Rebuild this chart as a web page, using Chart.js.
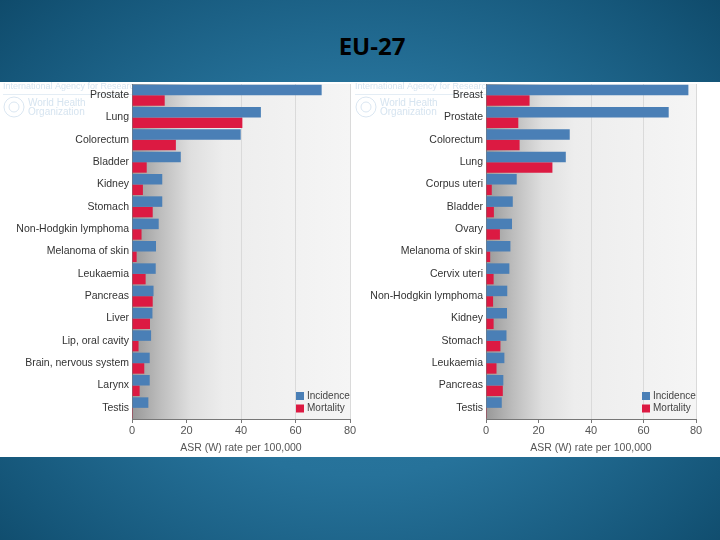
<!DOCTYPE html>
<html>
<head>
<meta charset="utf-8">
<script src="https://cdn.jsdelivr.net/npm/chart.js@4/dist/chart.umd.min.js"></script>
<style>
html,body{margin:0;padding:0;}
body{width:720px;height:540px;overflow:hidden;position:relative;
  background:radial-gradient(ellipse 75% 80% at 50% 52%, #2f7ea5 0%, #26729a 45%, #155679 80%, #0c4564 100%);}
#title{position:absolute;left:0;width:744px;top:31px;line-height:30px;text-align:center;
  font-family:'Open Sans',sans-serif;font-weight:bold;font-size:24px;color:#000;}
#white{position:absolute;top:82px;left:0;width:720px;height:375px;background:#fff;}
.panel{position:absolute;top:82px;height:375px;}
canvas{display:block;}
</style>
</head>
<body>
<div id="title">EU-27</div>
<div id="white"></div>
<div class="panel" style="left:352px;width:368px;z-index:1;"><canvas id="c2" width="368" height="375"></canvas></div>
<div class="panel" style="left:0;width:362px;z-index:2;"><canvas id="c1" width="362" height="375"></canvas></div>
<script>
// ---- data ----
const leftCategories = ['Prostate','Lung','Colorectum','Bladder','Kidney','Stomach','Non-Hodgkin lymphoma','Melanoma of skin','Leukaemia','Pancreas','Liver','Lip, oral cavity','Brain, nervous system','Larynx','Testis'];
const leftIncidence = [69.6,47.3,39.9,17.9,11.1,11.1,9.8,8.8,8.7,7.9,7.5,7.0,6.5,6.5,6.0];
const leftMortality = [12.0,40.5,16.1,5.4,4.0,7.6,3.5,1.7,5.0,7.6,6.6,2.4,4.5,2.8,0.3];

const rightCategories = ['Breast','Prostate','Colorectum','Lung','Corpus uteri','Bladder','Ovary','Melanoma of skin','Cervix uteri','Non-Hodgkin lymphoma','Kidney','Stomach','Leukaemia','Pancreas','Testis'];
const rightIncidence = [77.1,69.6,31.9,30.4,11.7,10.2,9.9,9.3,8.9,8.1,8.0,7.8,7.0,6.6,6.0];
const rightMortality = [16.6,12.3,12.8,25.3,2.2,3.0,5.3,1.6,2.9,2.7,2.9,5.5,4.0,6.4,0.3];

const seriesNames = ['Incidence','Mortality'];
const xTicks = [0,20,40,60,80];
const xTitle = 'ASR (W) rate per 100,000';
const watermarkTop = 'International Agency for Research on Cancer';
const watermarkOrg = ['World Health','Organization'];

Chart.defaults.font.family = "'Liberation Sans', Arial, sans-serif";
Chart.defaults.font.size = 10;

const decor = {
  id: 'decor',
  beforeDraw(chart) {
    const {ctx, chartArea: a} = chart;
    ctx.save();
    // watermark
    ctx.fillStyle = '#d6e4f0';
    ctx.font = "9px 'Liberation Sans', Arial";
    ctx.textBaseline = 'middle';
    ctx.beginPath(); ctx.rect(0,0,a.left,chart.height); ctx.clip();
    ctx.fillText(watermarkTop, 3, 5);
    ctx.strokeStyle = '#e4edf5'; ctx.lineWidth = 1;
    ctx.beginPath(); ctx.moveTo(3,12.5); ctx.lineTo(a.left,12.5); ctx.stroke();
    ctx.font = "10px 'Liberation Sans', Arial";
    ctx.fillText(watermarkOrg[0], 28, 21);
    ctx.fillText(watermarkOrg[1], 28, 30);
    ctx.strokeStyle = '#dae6f1';
    ctx.beginPath(); ctx.arc(14, 25, 10, 0, Math.PI*2); ctx.stroke();
    ctx.beginPath(); ctx.arc(14, 25, 5, 0, Math.PI*2); ctx.stroke();
    ctx.restore();
    // plot gradient background
    ctx.save();
    const g = ctx.createLinearGradient(a.left, 0, a.right, 0);
    g.addColorStop(0, '#989898');
    g.addColorStop(0.13, '#bdbdbd');
    g.addColorStop(0.27, '#dfdfdf');
    g.addColorStop(0.42, '#ededed');
    g.addColorStop(1, '#f5f5f5');
    ctx.fillStyle = g;
    ctx.fillRect(a.left, a.top, a.right - a.left, a.bottom - a.top);
    ctx.restore();
  },
  afterDraw(chart) {
    const {ctx, chartArea: a} = chart;
    ctx.save();
    ctx.font = "10px 'Liberation Sans', Arial";
    ctx.textBaseline = 'middle';
    const x0 = a.right - 54;
    chart.data.datasets.forEach((ds, i) => {
      const y = a.bottom - 23 + i * 12.5;
      ctx.fillStyle = ds.backgroundColor;
      ctx.fillRect(x0, y - 4, 8, 8);
      ctx.fillStyle = '#444';
      ctx.fillText(ds.label, x0 + 11, y);
    });
    ctx.restore();
  }
};

function makeChart(id, cats, inc, mort, yWidth, padRight) {
  return new Chart(document.getElementById(id), {
    type: 'bar',
    data: {
      labels: cats,
      datasets: [
        {label: seriesNames[0], data: inc, backgroundColor: '#4a7fb6', borderWidth: 0},
        {label: seriesNames[1], data: mort, backgroundColor: '#dc1a42', borderWidth: 0}
      ]
    },
    options: {
      indexAxis: 'y',
      responsive: false,
      animation: false,
      devicePixelRatio: 1,
      layout: {padding: {top: 2, right: padRight, left: 0, bottom: 0}},
      datasets: {bar: {categoryPercentage: 0.94, barPercentage: 1.0}},
      plugins: {legend: {display: false}, tooltip: {enabled: false}},
      scales: {
        x: {
          min: 0, max: 80,
          afterBuildTicks(s) { s.ticks = xTicks.map(v => ({value: v})); },
          afterFit(s) { s.height = 38; s.paddingLeft = 0; s.paddingRight = 0; },
          grid: {color: '#dadada', lineWidth: 1, drawTicks: true, tickLength: 4, tickColor: '#777'},
          border: {display: true, color: '#777', width: 1},
          ticks: {color: '#555', padding: 1, font: {size: 11}},
          title: {display: true, text: xTitle, color: '#555', font: {size: 10.5}, padding: {top: 0, bottom: 3}}
        },
        y: {
          afterFit(s) { s.width = yWidth; s.paddingTop = 0; s.paddingBottom = 0; },
          grid: {display: false, drawTicks: false},
          border: {display: true, color: '#777', width: 1},
          ticks: {color: '#333', padding: 3, font: {size: 10.5}, autoSkip: false}
        }
      }
    },
    plugins: [decor]
  });
}

makeChart('c1', leftCategories, leftIncidence, leftMortality, 132, 12);
makeChart('c2', rightCategories, rightIncidence, rightMortality, 134, 24);
</script>
</body>
</html>
